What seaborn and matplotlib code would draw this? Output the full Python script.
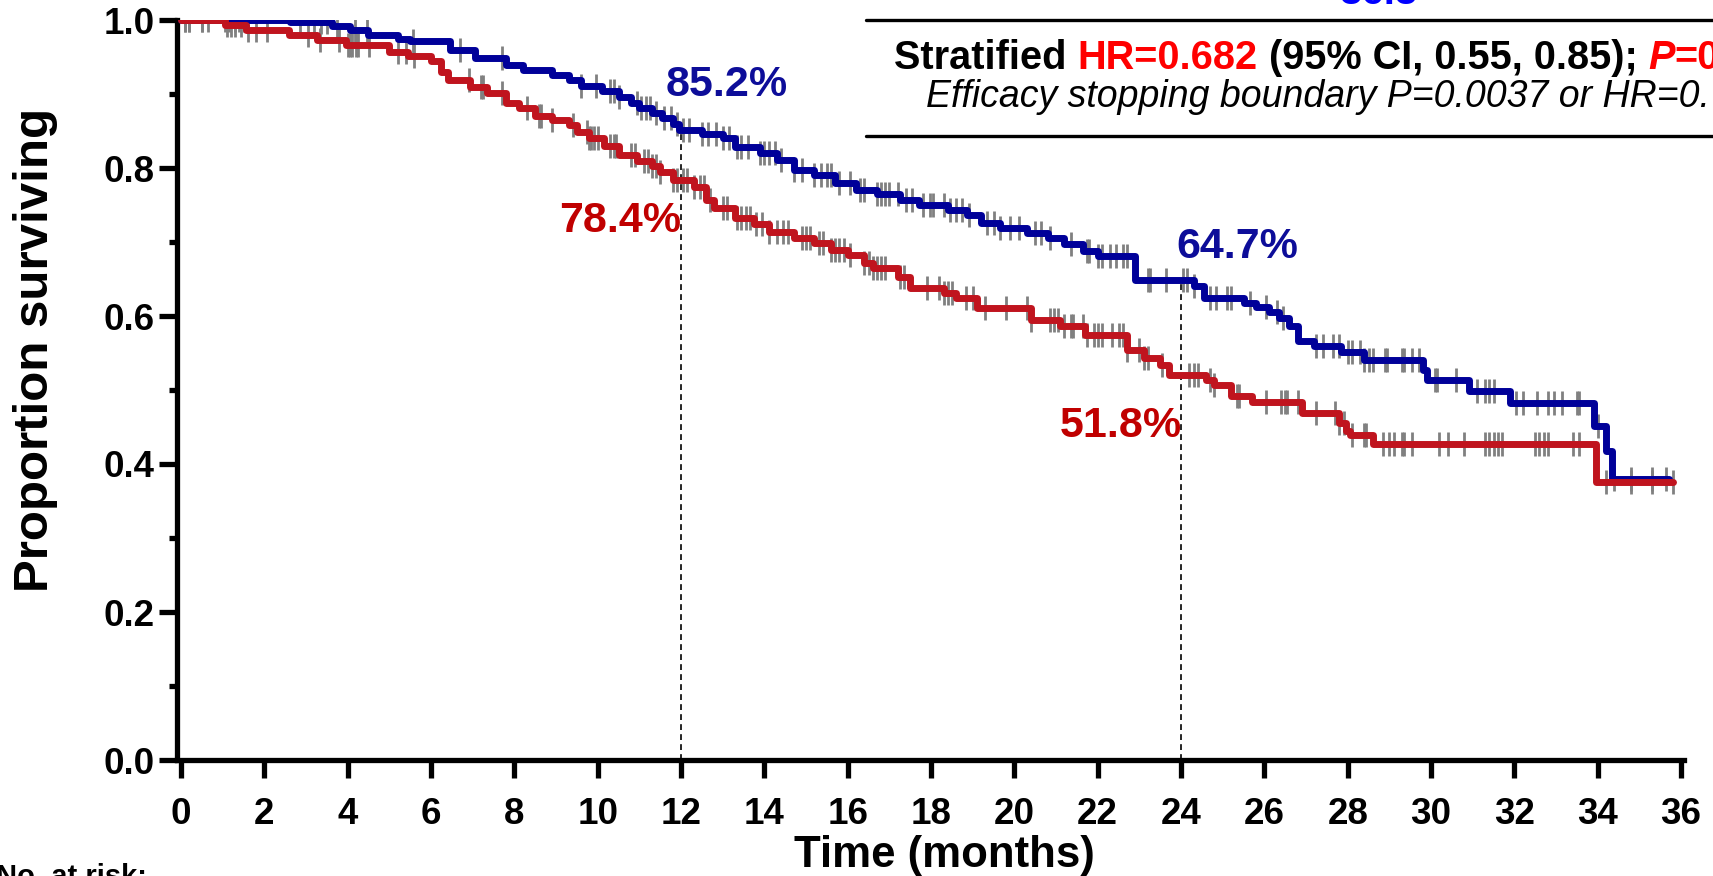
import numpy as np
import pandas as pd
import matplotlib
matplotlib.use("Agg")
import matplotlib.pyplot as plt
import seaborn as sns
from matplotlib.lines import Line2D
from matplotlib.ticker import MultipleLocator
from matplotlib.font_manager import FontProperties

# ---------------- data ----------------
arm_names = ["Arm A", "Arm B"]          # blue, red
blue_times = [0, 2.62, 3.62, 4.06, 4.49, 5.2, 5.5, 6.46, 7.05, 7.8, 8.2, 8.9, 9.3, 9.6,
              10.1, 10.5, 10.8, 11.0, 11.3, 11.55, 11.8, 11.95, 12.5, 13.0, 13.3, 13.9,
              14.3, 14.7, 15.2, 15.7, 16.2, 16.7, 17.25, 17.7, 18.4, 18.86, 19.2, 19.65,
              20.3, 20.8, 21.2, 21.65, 22.0, 22.9, 24.3, 24.55, 25.5, 25.8, 26.1, 26.35,
              26.6, 26.8, 27.2, 27.85, 28.4, 29.8, 29.9, 30.9, 31.9, 33.9, 34.2, 34.35]
blue_surv = [1.0, 0.9977, 0.992, 0.9865, 0.980, 0.975, 0.971, 0.960, 0.948, 0.939, 0.932,
             0.926, 0.919, 0.911, 0.904, 0.896, 0.888, 0.881, 0.874, 0.867, 0.860, 0.852,
             0.846, 0.840, 0.829, 0.820, 0.811, 0.797, 0.791, 0.780, 0.770, 0.765, 0.757,
             0.750, 0.743, 0.736, 0.726, 0.719, 0.712, 0.705, 0.697, 0.688, 0.681, 0.648,
             0.641, 0.625, 0.617, 0.612, 0.606, 0.597, 0.586, 0.566, 0.559, 0.552, 0.5405,
             0.527, 0.5135, 0.499, 0.482, 0.452, 0.417, 0.380]
blue_end = 35.7

red_times = [0, 1.06, 1.55, 2.6, 3.26, 3.95, 5.0, 5.45, 6.0, 6.25, 6.4, 6.94, 7.35, 7.8,
             8.1, 8.5, 8.9, 9.3, 9.5, 9.8, 10.15, 10.5, 10.95, 11.3, 11.5, 11.8, 12.3,
             12.6, 12.8, 13.3, 13.75, 14.1, 14.7, 15.2, 15.6, 16.0, 16.4, 16.6, 17.2, 17.5,
             18.3, 18.6, 19.1, 20.4, 21.1, 21.7, 22.7, 23.1, 23.5, 23.7, 24.6, 24.8, 25.2,
             25.7, 26.9, 27.8, 27.95, 28.05, 28.6, 33.96]
red_surv = [1.0, 0.993, 0.986, 0.980, 0.973, 0.966, 0.957, 0.952, 0.944, 0.930, 0.919,
            0.910, 0.901, 0.888, 0.881, 0.870, 0.865, 0.858, 0.848, 0.840, 0.830, 0.818,
            0.810, 0.803, 0.795, 0.784, 0.775, 0.757, 0.746, 0.733, 0.724, 0.714, 0.705,
            0.698, 0.689, 0.682, 0.671, 0.665, 0.653, 0.638, 0.631, 0.624, 0.611, 0.595,
            0.586, 0.574, 0.554, 0.543, 0.534, 0.520, 0.514, 0.507, 0.492, 0.484, 0.469,
            0.455, 0.445, 0.439, 0.427, 0.376]
red_end = 35.8

blue_censor = [0.1, 0.2, 0.5, 0.65, 1.05, 1.15, 1.3, 1.4, 1.5, 1.55, 2.85, 3.2, 3.35, 3.5,
               3.75, 4.18, 4.46, 5.57, 6.7, 7.7, 9.6, 9.95, 10.3, 10.4, 10.5, 10.95, 11.05,
               11.15, 11.25, 11.4, 11.6, 11.75, 11.9, 12.05, 12.2, 12.5, 12.65, 12.85, 13.0,
               13.15, 13.35, 13.45, 13.6, 13.9, 14.0, 14.1, 14.25, 14.4, 14.7, 14.9, 15.2,
               15.35, 15.5, 15.6, 15.8, 16.05, 16.3, 16.4, 16.7, 16.8, 16.9, 17.0, 17.2,
               17.4, 17.55, 17.8, 17.97, 18.05, 18.3, 18.45, 18.6, 18.75, 18.9, 19.35, 19.5,
               19.65, 19.9, 20.1, 20.5, 20.65, 20.85, 21.35, 21.75, 21.8, 22.0, 22.1, 22.3,
               22.45, 22.6, 22.7, 23.2, 23.25, 23.65, 24.05, 24.15, 24.3, 24.7, 24.85, 25.1,
               25.2, 25.65, 26.05, 26.3, 26.45, 27.25, 27.4, 27.65, 27.8, 28.0, 28.1, 28.3,
               28.4, 28.5, 28.6, 28.9, 28.95, 29.3, 29.35, 29.55, 29.7, 30.1, 30.15, 30.6,
               31.1, 31.3, 31.4, 31.5, 32.05, 32.2, 32.55, 32.8, 32.95, 33.15, 33.5, 33.55,
               34.0, 34.4, 34.8, 35.3, 35.65]
red_censor = [0.1, 0.2, 0.5, 1.1, 1.2, 1.3, 1.45, 1.6, 1.8, 2.06, 3.05, 3.33, 3.8, 4.0,
              4.05, 4.1, 4.2, 4.25, 4.5, 5.2, 5.4, 5.6, 6.9, 7.2, 7.25, 7.7, 8.3, 8.6, 8.65,
              8.9, 9.4, 9.75, 9.8, 9.85, 9.9, 10.0, 10.3, 10.4, 10.45, 10.8, 10.9, 11.1,
              11.2, 11.3, 11.4, 11.5, 11.8, 11.9, 12.05, 12.15, 12.3, 12.45, 12.55, 12.7,
              13.0, 13.1, 13.35, 13.45, 13.55, 13.65, 13.8, 13.95, 14.1, 14.3, 14.45, 14.57,
              14.9, 15.0, 15.1, 15.3, 15.4, 15.6, 15.7, 15.8, 15.9, 16.05, 16.4, 16.5, 16.6,
              16.7, 16.8, 16.9, 17.25, 17.35, 17.9, 18.2, 18.3, 18.4, 18.5, 18.85, 19.0,
              19.3, 19.8, 20.3, 20.4, 20.85, 20.95, 21.05, 21.2, 21.35, 21.4, 21.65, 21.75,
              21.9, 22.0, 22.1, 22.35, 22.5, 22.6, 22.7, 23.0, 23.1, 23.2, 23.55, 24.2, 24.3,
              24.4, 24.7, 24.8, 25.35, 25.4, 26.05, 26.4, 26.5, 26.55, 26.8, 27.25, 27.7,
              27.8, 27.9, 28.1, 28.4, 28.45, 28.85, 29.0, 29.1, 29.3, 29.35, 29.55, 30.2,
              30.4, 30.8, 31.3, 31.4, 31.5, 31.6, 31.7, 32.5, 32.6, 32.7, 32.8, 33.4, 33.55,
              34.2, 34.8, 35.3, 35.8]

landmarks = [12, 24]
blue_landmark_labels = ["85.2%", "64.7%"]
red_landmark_labels = ["78.4%", "51.8%"]
xticks = list(range(0, 37, 2))
yticks = [0.0, 0.2, 0.4, 0.6, 0.8, 1.0]
ytick_labels = ["0.0", "0.2", "0.4", "0.6", "0.8", "1.0"]
xlabel = "Time (months)"
ylabel = "Proportion surviving"

# ---------------- style ----------------
BLUE = "#000099"
RED = "#c0141e"
BLUE_TXT = "#0d0d99"
RED_TXT = "#c00000"
GRAY = "#808080"

sns.set_theme(style="ticks")
plt.rcParams["font.family"] = ["Liberation Sans", "DejaVu Sans"]
plt.rcParams["font.weight"] = "bold"
plt.rcParams["text.color"] = "black"
plt.rcParams["axes.labelcolor"] = "black"

W, H = 1713, 876
fig = plt.figure(figsize=(W / 100, H / 100), dpi=100)
ax = fig.add_axes([177 / W, 1 - 760 / H, (1684 - 177) / W, (760 - 20) / H])


def step_value(times, surv, t):
    idx = np.searchsorted(np.asarray(times), np.asarray(t, dtype=float), side="right") - 1
    return np.asarray(surv)[idx]


def curve_frame(times, surv, end, name):
    return pd.DataFrame({"time": list(times) + [end],
                         "surv": list(surv) + [surv[-1]],
                         "arm": name})


df = pd.concat([curve_frame(blue_times, blue_surv, blue_end, arm_names[0]),
                curve_frame(red_times, red_surv, red_end, arm_names[1])],
               ignore_index=True)

# censor marks (under the curves)
for cens, times, surv in [(blue_censor, blue_times, blue_surv),
                          (red_censor, red_times, red_surv)]:
    ax.plot(cens, step_value(times, surv, cens), linestyle="none", marker="|",
            markersize=17, markeredgewidth=2.0, color=GRAY, zorder=2)

# red drawn last (on top), as in the reference
sns.lineplot(data=df, x="time", y="surv", hue="arm", hue_order=arm_names,
             palette={arm_names[0]: BLUE, arm_names[1]: RED},
             estimator=None, sort=False, drawstyle="steps-post", linewidth=5.0,
             legend=False, ax=ax, zorder=3)

# landmark dashed lines
for lm in landmarks:
    ax.vlines(lm, 0, step_value(blue_times, blue_surv, lm), colors="black",
              linestyles=(0, (3.5, 2.5)), linewidth=1.2, zorder=1)

ann_kw = dict(fontsize=31, fontweight="bold", ha="center", va="baseline", zorder=5)
ax.text(13.1, 0.897, blue_landmark_labels[0], color=BLUE_TXT, **ann_kw)
ax.text(25.35, 0.679, blue_landmark_labels[1], color=BLUE_TXT, **ann_kw)
ax.text(10.53, 0.714, red_landmark_labels[0], color=RED_TXT, **ann_kw)
ax.text(22.56, 0.4365, red_landmark_labels[1], color=RED_TXT, **ann_kw)

# axes styling
ax.set_xlim(-0.096, 36.07)
ax.set_ylim(0, 1.0)
ax.set_xticks(xticks)
ax.set_xticklabels([str(v) for v in xticks], fontsize=26.5, fontweight="bold")
ax.set_yticks(yticks)
ax.set_yticklabels(ytick_labels, fontsize=26.5, fontweight="bold")
ax.yaxis.set_minor_locator(MultipleLocator(0.1))
for s in ["top", "right"]:
    ax.spines[s].set_visible(False)
for s in ["left", "bottom"]:
    ax.spines[s].set_linewidth(3.8)
    ax.spines[s].set_color("black")
ax.tick_params(axis="both", which="major", direction="out", length=13, width=3.8,
               color="black", labelcolor="black")
ax.tick_params(axis="x", which="major", pad=14)
ax.tick_params(axis="y", which="major", pad=3)
ax.tick_params(axis="y", which="minor", direction="out", length=6, width=3.8, color="black")
ax.set_xlabel(xlabel, fontsize=31.5, fontweight="bold", color="black")
ax.set_ylabel(ylabel, fontsize=35.5, fontweight="bold", color="black")
ax.xaxis.set_label_coords(0.509, -0.101)
ax.yaxis.set_label_coords(-0.079, 0.554)
ax.grid(False)

# ---------------- header table (cut at the figure edge) ----------------
fig.add_artist(Line2D([866 / W, 1.0], [1 - 19.7 / H] * 2, color="black", linewidth=2.4))
fig.add_artist(Line2D([866 / W, 1.0], [1 - 135.5 / H] * 2, color="black", linewidth=2.4))
fig.text(1378 / W, 1 - 4 / H, "36.3", color="#0000ff", fontsize=29, fontweight="bold",
         ha="center", va="baseline")

fig.canvas.draw()
renderer = fig.canvas.get_renderer()


def text_width(s, prop):
    w1, _, _ = renderer.get_text_width_height_descent("|" + s + "|", prop, ismath=False)
    w0, _, _ = renderer.get_text_width_height_descent("||", prop, ismath=False)
    return w1 - w0


segments = [("Stratified ", "black", "normal"),
            ("HR=0.682", "#ff0000", "normal"),
            (" (95% CI, 0.55, 0.85); ", "black", "normal"),
            ("P", "#ff0000", "italic"),
            ("=0.0009", "#ff0000", "normal")]
x = 894.0
for s, c, st in segments:
    prop = FontProperties(family="Liberation Sans", weight="bold", style=st, size=28.6)
    fig.text(x / W, 1 - 69 / H, s, color=c, fontproperties=prop, ha="left", va="baseline")
    x += text_width(s, prop)

fig.text(926 / W, 1 - 107 / H, "Efficacy stopping boundary P=0.0037 or HR=0.74",
         color="black", fontsize=27, fontweight="normal", fontstyle="italic",
         ha="left", va="baseline")

fig.text(-4 / W, 1 - 863 / H, "No. at risk:", color="black", fontsize=21,
         fontweight="bold", ha="left", va="top")

fig.savefig("out.png", dpi=100)
